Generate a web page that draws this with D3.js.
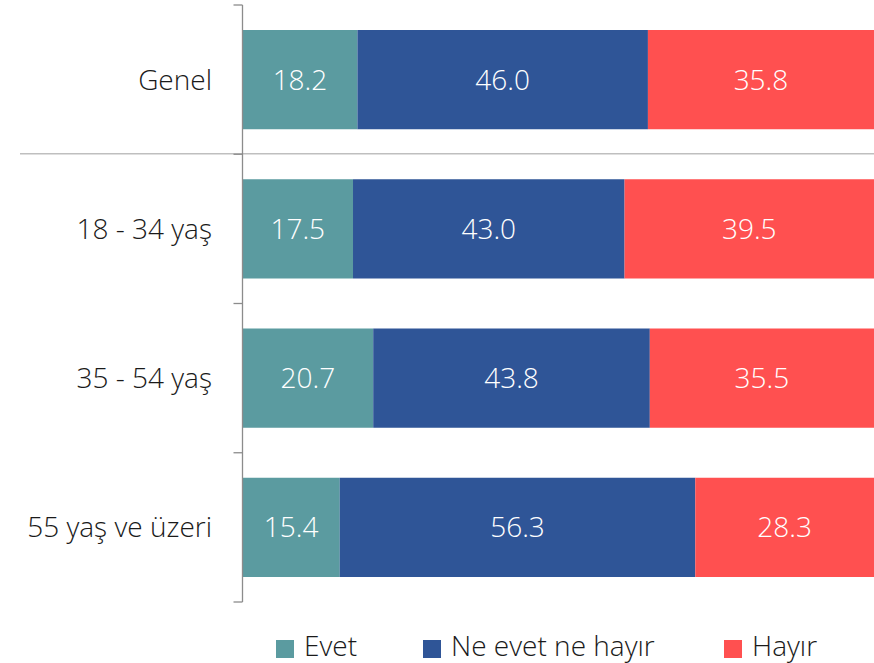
<!DOCTYPE html>
<html><head><meta charset="utf-8">
<script src="https://cdn.jsdelivr.net/npm/d3@7"></script>
<style>body{margin:0;background:#fff}text{font-family:"Open Sans",sans-serif}</style>
</head><body><svg id="c" width="874" height="663"></svg>
<script>
const categories = ["Genel", "18 - 34 yaş", "35 - 54 yaş", "55 yaş ve üzeri"];
const seriesNames = ["Evet", "Ne evet ne hayır", "Hayır"];
const evet = [18.2, 17.5, 20.7, 15.4];
const neEvet = [46.0, 43.0, 43.8, 56.3];
const hayir = [35.8, 39.5, 35.5, 28.3];
const colors = ["#5B9BA0", "#2F5597", "#FF5050"];

const svg = d3.select("#c");
const x0 = 242.5, x1 = 874, yTop = 5, yBot = 602;
const x = d3.scaleLinear().domain([0, 100]).range([x0, x1]);
const y = d3.scaleBand().domain(categories).range([yTop, yBot]).paddingInner(0.335).paddingOuter(0.1675);

const rows = categories.map((c, i) => ({cat: c, Evet: evet[i], "Ne evet ne hayır": neEvet[i], "Hayır": hayir[i]}));
const stack = d3.stack().keys(seriesNames)(rows);

// separator under Genel
const yb = d3.scaleBand().domain(categories).range([yTop, yBot]);
svg.append("line").attr("x1", 20).attr("x2", 874)
  .attr("y1", yb(categories[1]) - 0.5).attr("y2", yb(categories[1]) - 0.5)
  .attr("stroke", "#bfbfbf").attr("stroke-width", 1.3);

stack.forEach((s, si) => {
  const g = svg.append("g").attr("fill", colors[si]);
  g.selectAll("rect").data(s).enter().append("rect")
    .attr("x", d => x(d[0])).attr("width", d => x(d[1]) - x(d[0]))
    .attr("y", d => y(d.data.cat)).attr("height", y.bandwidth());
  svg.append("g").selectAll("text").data(s).enter().append("text")
    .attr("x", d => (x(d[0]) + x(d[1])) / 2)
    .attr("y", d => y(d.data.cat) + y.bandwidth() / 2)
    .attr("dy", "0.36em").attr("text-anchor", "middle")
    .attr("fill", "#fff").attr("font-size", 28).attr("font-weight", 300)
    .text(d => (d[1] - d[0]).toFixed(1));
});

// axis
const ax = svg.append("g");
ax.append("line").attr("x1", x0).attr("x2", x0).attr("y1", yTop).attr("y2", yBot)
  .attr("stroke", "#8c8c8c").attr("stroke-width", 1.3);
const tickYs = categories.map(c => yb(c)).concat([yBot]);
ax.selectAll(".t").data(tickYs).enter().append("line")
  .attr("x1", x0 - 9).attr("x2", x0).attr("y1", d => d).attr("y2", d => d)
  .attr("stroke", "#8c8c8c").attr("stroke-width", 1.3);
ax.selectAll(".l").data(categories).enter().append("text")
  .attr("x", 212).attr("y", d => yb(d) + yb.bandwidth() / 2)
  .attr("dy", "0.36em").attr("text-anchor", "end")
  .attr("fill", "#1a1a1a").attr("font-size", 28).attr("font-weight", 300)
  .text(d => d);

// legend
const legX = [276, 423, 724];
const lg = svg.append("g");
seriesNames.forEach((n, i) => {
  lg.append("rect").attr("x", legX[i]).attr("y", 640).attr("width", 18).attr("height", 18).attr("fill", colors[i]);
  lg.append("text").attr("x", legX[i] + 28).attr("y", 646).attr("dy", "0.36em")
    .attr("font-size", 28).attr("font-weight", 300).attr("fill", "#1a1a1a").text(n);
});
</script></body></html>
